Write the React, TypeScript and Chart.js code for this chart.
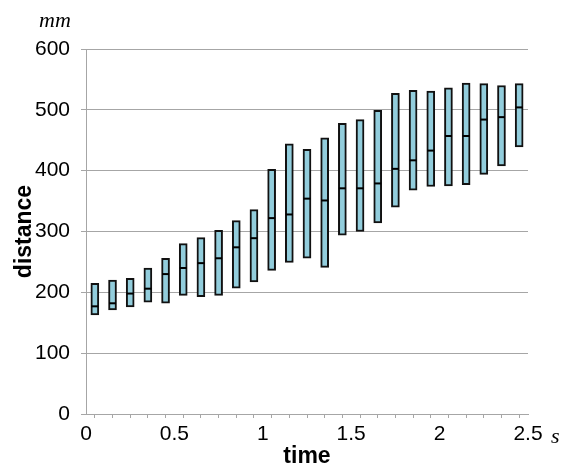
import React, { useEffect, useRef } from "react";
import { Chart, registerables } from "chart.js";

Chart.register(...registerables);

const times = [0.05, 0.15, 0.25, 0.35, 0.45, 0.55, 0.65, 0.75, 0.85, 0.95, 1.05, 1.15, 1.25, 1.35, 1.45, 1.55, 1.65, 1.75, 1.85, 1.95, 2.05, 2.15, 2.25, 2.35, 2.45];
const mins = [163, 171, 176, 184, 182, 195, 193, 195, 207, 217, 236, 249, 256, 241, 294, 300, 314, 340, 368, 374, 375, 377, 394, 408, 439];
const maxs = [215, 220, 223, 240, 256, 280, 290, 302, 318, 336, 402, 444, 435, 454, 478, 484, 499, 527, 532, 531, 536, 544, 543, 540, 543];
const medians = [177, 182, 198, 206, 230, 240, 248, 256, 274, 289, 322, 328, 354, 351, 371, 371, 379, 403, 417, 433, 457, 457, 484, 488, 504];

const xTickLabels = ["0", "0.5", "1", "1.5", "2", "2.5"];
const yUnit = "mm";
const xUnit = "s";
const xTitle = "time";
const yTitle = "distance";

const GRID = "#a6a6a6";
const FILL = "#92CDDC";
const TICK_FONT = { family: '"Liberation Sans Narrow", "Liberation Sans", Arial, sans-serif', size: 21 };
const TITLE_FONT = { family: '"Liberation Sans", Arial, sans-serif', size: 23, weight: "bold" as const };

const unitPlugin = {
  id: "units",
  afterDraw(chart: any) {
    const ctx = chart.ctx;
    ctx.save();
    ctx.fillStyle = "#000";
    ctx.font = 'italic 22px "Liberation Serif", "DejaVu Serif", serif';
    ctx.textBaseline = "alphabetic";
    ctx.textAlign = "left";
    ctx.fillText(yUnit, 39, 27);
    ctx.fillText(xUnit, 551, 443);
    ctx.restore();
  },
};

export default function App() {
  const ref = useRef<HTMLCanvasElement | null>(null);
  useEffect(() => {
    if (!ref.current) return;
    const chart = new Chart(ref.current, {
      type: "bar",
      data: {
        datasets: [
          {
            type: "scatter",
            data: times.map((t, i) => ({ x: t, y: medians[i] })),
            pointStyle: "line",
            radius: 3.5,
            borderColor: "#000",
            borderWidth: 2,
            order: 0,
          } as any,
          {
            type: "bar",
            data: times.map((t, i) => ({ x: t, y: [mins[i], maxs[i]] })),
            backgroundColor: FILL,
            borderColor: "#111",
            borderWidth: 2,
            borderSkipped: false,
            barThickness: 8,
            order: 1,
          } as any,
        ],
      },
      options: {
        responsive: false,
        animation: false,
        layout: { padding: { left: 0, right: 36, top: 49, bottom: 0 } },
        plugins: { legend: { display: false }, tooltip: { enabled: false } },
        scales: {
          x: {
            type: "linear",
            min: 0,
            max: 2.5,
            offset: false,
            afterFit: (s: any) => {
              s.height = 56;
            },
            border: { color: GRID, width: 1 },
            grid: { drawOnChartArea: false, drawTicks: true, tickLength: 4, color: GRID },
            ticks: {
              stepSize: 0.1,
              autoSkip: false,
              maxRotation: 0,
              padding: 4,
              color: "#000",
              font: TICK_FONT,
              callback: (v: any) => {
                const r = Math.round(Number(v) * 10);
                return r % 5 === 0 ? xTickLabels[r / 5] : "";
              },
            },
            title: { display: true, text: xTitle, color: "#000", font: TITLE_FONT, padding: { top: 3, bottom: 0 } },
          },
          y: {
            min: 0,
            max: 600,
            afterFit: (s: any) => {
              s.width = 86;
            },
            border: { color: GRID, width: 1 },
            grid: { color: GRID, tickLength: 5 },
            ticks: { stepSize: 100, padding: 11, color: "#000", font: TICK_FONT },
            title: { display: true, text: yTitle, color: "#000", font: TITLE_FONT, padding: { top: 11, bottom: 0 } },
          },
        },
      },
      plugins: [unitPlugin],
    });
    return () => chart.destroy();
  }, []);
  return (
    <div style={{ position: "fixed", left: 0, top: 0, width: 564, height: 470, background: "#fff" }}>
      <canvas ref={ref} width={564} height={470} />
    </div>
  );
}
